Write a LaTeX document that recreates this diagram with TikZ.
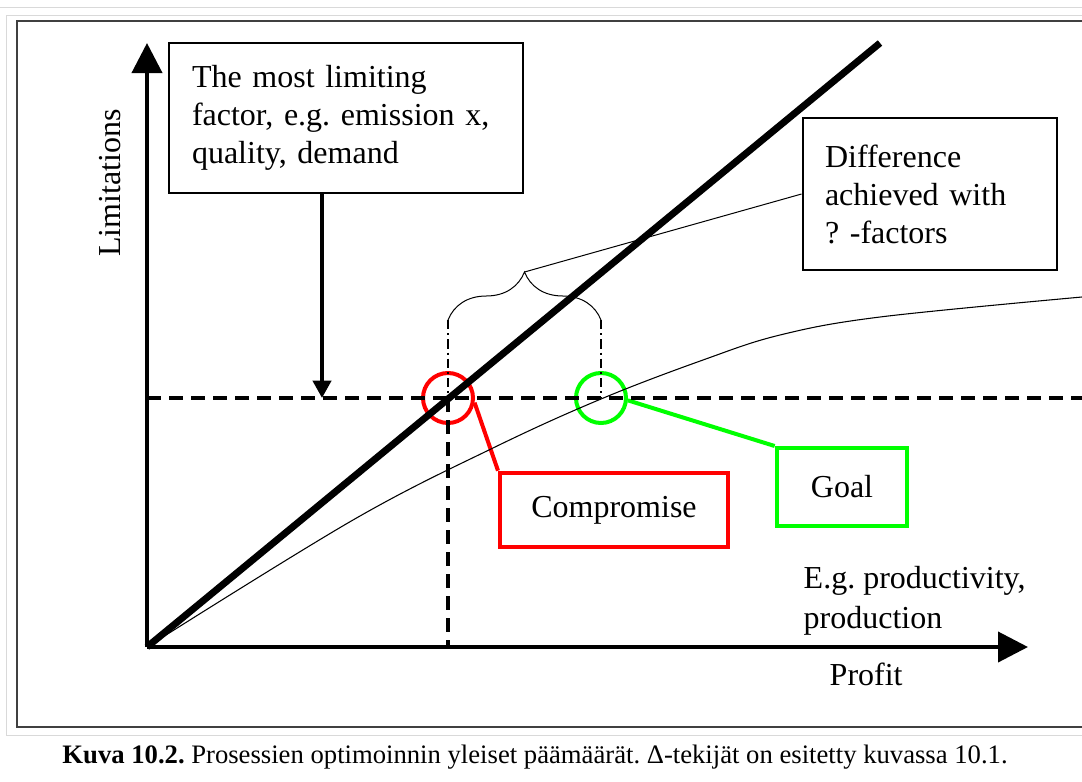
\documentclass[tikz,border=0pt]{standalone}
\usepackage{fontspec}
\setmainfont{Liberation Serif}
\usetikzlibrary{arrows.meta,decorations.pathreplacing}
\frenchspacing

\begin{document}
\begin{tikzpicture}[x=0.75pt,y=-0.75pt,
  font=\fontsize{24}{28.5}\selectfont,
  framebox/.style={draw, line width=2.2pt, inner sep=0pt},
  ring/.style={draw, circle, line width=3pt, minimum size=37.5pt, inner sep=0pt},
  limdash/.style={line width=2.4pt, dash pattern=on 10.5pt off 6pt},
  guide/.style={line width=1.4pt, dash pattern=on 7pt off 3pt on 1.5pt off 3pt},
  bigarrow/.style={line width=3pt, -{Triangle[length=22.5pt,width=22.5pt]}}]

\useasboundingbox (0,0) rectangle (1082,782);
\draw[gray!30] (0,7) -- (1082,7);
\draw[gray!30] (1082,15) -- (6,15) -- (6,735) -- (1082,735);
\draw[black!75, line width=1.6pt] (1082,21) -- (17,21) -- (17,727) -- (1082,727);

\coordinate (O) at (147,647);
\coordinate (ytip) at (147,43);
\coordinate (xtip) at (1028,647);
\coordinate (thickend) at (880,43);
\coordinate (limL) at (147,398);
\coordinate (limR) at (1082,398);
\coordinate (limmark) at (322,398);
\coordinate (bL) at (448,320);
\coordinate (bR) at (601,320);
\coordinate (btip) at (524.5,272);

% boxes and rings
\node[framebox, minimum width=265.5pt, minimum height=112.5pt, text width=231pt, align=left] (limit) at (346,118) {The most limiting\\factor, e.g. emission x,\\quality, demand};
\node[framebox, minimum width=190.5pt, minimum height=114pt, text width=157.5pt, align=left] (diff) at (930,194) {Difference\\achieved with\\? -factors};
\node[framebox, draw=red, line width=3pt, minimum width=171pt, minimum height=56pt] (comp) at (614,510) {Compromise};
\node[framebox, draw=green, line width=3pt, minimum width=98pt, minimum height=58.5pt] (goal) at (842,487) {Goal};
\node[ring, red] (compring) at (448,398) {};
\node[ring, green] (goalring) at (601,398) {};
\draw[red, line width=3pt] (compring.-10) -- (comp.north west);
\draw[green, line width=3pt] (goalring.-5) -- (goal.north west);

% axes
\draw[bigarrow] (O) -- (ytip);
\draw[bigarrow] (O) -- (xtip);
\node[rotate=90] (ylab) at (110,183) {Limitations};
\node[anchor=base west, align=left] (xlab) at (799,628) {E.g. productivity,\\[1.5pt]production};
\node[anchor=base west] (profit) at (825,685) {Profit};

% limit level
\draw[limdash] (limL) -- (limR);
\draw[line width=3pt, -{Triangle[length=13pt,width=13.5pt]}] (limit.south -| limmark) -- (limmark);
\draw[limdash] (compring.center) -- (compring.center |- O);
\draw[guide] (bL) -- (compring.center);
\draw[guide] (bR) -- (goalring.center);
\draw[line width=0.75pt, decorate, decoration={brace, amplitude=36pt}] (bL) -- (bR);
\draw[line width=0.75pt] (btip) -- (diff.west);

% curves
\draw[line width=5.2pt] (O) -- (thickend);
\draw[line width=0.8pt] plot[smooth, tension=0.6] coordinates {(147,647) (353,520) (493,448) (601,399) (703,360) (780,335) (880,317) (1082,297)};

\node[font=\fontsize{20}{24}\selectfont] (caption) at (535,757) {\textbf{Kuva 10.2.} Prosessien optimoinnin yleiset päämäärät. Δ-tekijät on esitetty kuvassa 10.1.};
\end{tikzpicture}
\end{document}
